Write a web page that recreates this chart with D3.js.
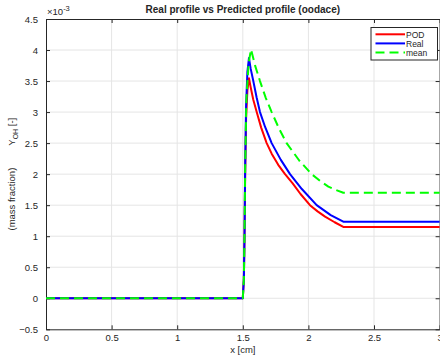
<!DOCTYPE html>
<html>
<head>
<meta charset="utf-8">
<script src="https://cdn.jsdelivr.net/npm/d3@7"></script>
<style>
  body { margin: 0; background: #fff; }
  text { font-family: "Liberation Sans", Arial, Helvetica, sans-serif; fill: #262626; }
</style>
</head>
<body>
<script>
// Y values are in units of 1e-3 (mass fraction), as on the axis multiplier
const xTicks = [0, 0.5, 1, 1.5, 2, 2.5, 3];
const yTicks = [-0.5, 0, 0.5, 1, 1.5, 2, 2.5, 3, 3.5, 4, 4.5];

const podX = [0, 1.5, 1.508, 1.513, 1.518, 1.525, 1.535, 1.547, 1.56, 1.58, 1.606, 1.64, 1.682, 1.72, 1.77, 1.822, 1.88, 1.94, 2.012, 2.07, 2.127, 2.2, 2.266, 3];
const podY = [0, 0, 0.3, 1.0, 2.0, 2.9, 3.35, 3.545, 3.40, 3.2, 3.0, 2.75, 2.5, 2.33, 2.15, 2.0, 1.85, 1.68, 1.5, 1.40, 1.315, 1.225, 1.149, 1.149];

const realX = [0, 1.5, 1.508, 1.513, 1.518, 1.525, 1.535, 1.547, 1.56, 1.58, 1.605, 1.631, 1.67, 1.72, 1.79, 1.86, 1.95, 2.063, 2.17, 2.266, 3];
const realY = [0, 0, 0.3, 1.0, 2.1, 3.1, 3.65, 3.87, 3.70, 3.5, 3.24, 3.0, 2.76, 2.5, 2.23, 2.0, 1.76, 1.5, 1.34, 1.234, 1.234];

const meanX = [0, 1.5, 1.508, 1.513, 1.518, 1.527, 1.545, 1.5625, 1.595, 1.631, 1.675, 1.72, 1.775, 1.834, 1.93, 2.025, 2.09, 2.152, 2.21, 2.266, 3];
const meanY = [0, 0, 0.3, 1.0, 2.1, 3.2, 3.8, 4.01, 3.74, 3.5, 3.23, 3.0, 2.74, 2.5, 2.22, 2.0, 1.89, 1.80, 1.745, 1.70, 1.70];

const series = [
  { name: "POD", xs: podX, ys: podY, color: "#ff0000", dash: null },
  { name: "Real", xs: realX, ys: realY, color: "#0000ff", dash: null },
  { name: "mean", xs: meanX, ys: meanY, color: "#00ff00", dash: "9,5" }
];

const W = 440, H = 359;
const margin = { top: 19, right: 0.4, bottom: 29.7, left: 46 };
const width = W - margin.left - margin.right;
const height = H - margin.top - margin.bottom;

const svg = d3.select("body").append("svg")
  .attr("width", W)
  .attr("height", H);

const g = svg.append("g")
  .attr("transform", `translate(${margin.left},${margin.top})`);

const x = d3.scaleLinear().domain([0, 3]).range([0, width]);
const y = d3.scaleLinear().domain([-0.5, 4.5]).range([height, 0]);

// Grid
g.append("g").selectAll("line").data(xTicks.slice(1, -1)).join("line")
  .attr("x1", d => x(d)).attr("x2", d => x(d))
  .attr("y1", 0).attr("y2", height)
  .attr("stroke", "#e5e5e5").attr("stroke-width", 1);
g.append("g").selectAll("line").data(yTicks.slice(1, -1)).join("line")
  .attr("x1", 0).attr("x2", width)
  .attr("y1", d => y(d)).attr("y2", d => y(d))
  .attr("stroke", "#e5e5e5").attr("stroke-width", 1);

// Axes (ticks inside, box on)
function styleAxis(sel) {
  sel.select(".domain").attr("stroke", "#262626");
  sel.selectAll(".tick line").attr("stroke", "#262626");
  sel.selectAll(".tick text").style("font-size", "9.5px").attr("fill", "#262626");
}
g.append("g").attr("transform", `translate(0,${height})`)
  .call(d3.axisBottom(x).tickValues(xTicks).tickSizeInner(-4).tickSizeOuter(0).tickPadding(5).tickFormat(d3.format("")))
  .call(styleAxis);
g.append("g")
  .call(d3.axisLeft(y).tickValues(yTicks).tickSizeInner(-4).tickSizeOuter(0).tickPadding(8).tickFormat(d3.format("")))
  .call(styleAxis);
g.append("g")
  .call(d3.axisTop(x).tickValues(xTicks).tickSizeInner(-4).tickSizeOuter(0).tickFormat(""))
  .call(styleAxis);
g.append("g").attr("transform", `translate(${width},0)`)
  .call(d3.axisRight(y).tickValues(yTicks).tickSizeInner(-4).tickSizeOuter(0).tickFormat(""))
  .call(styleAxis);

// Lines
const line = d3.line().x(d => x(d[0])).y(d => y(d[1]));
g.append("g").selectAll("path").data(series).join("path")
  .attr("d", s => line(s.xs.map((v, i) => [v, s.ys[i]])))
  .attr("fill", "none")
  .attr("stroke", s => s.color)
  .attr("stroke-width", 2)
  .attr("stroke-dasharray", s => s.dash)
  .attr("stroke-linejoin", "round");

// Exponent label
const ex = svg.append("text").attr("x", 47).attr("y", 15).style("font-size", "9.5px");
ex.append("tspan").text("\u00d710");
ex.append("tspan").attr("dy", -4).style("font-size", "7.5px").text("-3");

// Title
svg.append("text")
  .attr("x", margin.left + width / 2).attr("y", 13)
  .attr("text-anchor", "middle")
  .style("font-size", "10px").style("font-weight", "bold")
  .attr("fill", "#000")
  .text("Real profile vs Predicted profile (oodace)");

// X label
svg.append("text")
  .attr("x", margin.left + width / 2).attr("y", 353)
  .attr("text-anchor", "middle")
  .style("font-size", "9.5px")
  .text("x [cm]");

// Y label
const yl = svg.append("text")
  .attr("transform", `translate(15,${margin.top + height / 2}) rotate(-90)`)
  .attr("text-anchor", "middle")
  .style("font-size", "9.5px");
yl.append("tspan").text("(mass fraction)");
yl.append("tspan").attr("dx", 22).text("Y");
yl.append("tspan").attr("dy", 3).style("font-size", "7px").text("OH");
yl.append("tspan").attr("dy", -3).text(" [-]");

// Legend
const lg = svg.append("g").attr("transform", "translate(371,27.5)");
lg.append("rect").attr("width", 66.5).attr("height", 32.5)
  .attr("fill", "#fff").attr("stroke", "#262626").attr("stroke-width", 1);
series.forEach((s, i) => {
  const yy = 6.8 + i * 9.1;
  lg.append("line").attr("x1", 4.5).attr("x2", 34).attr("y1", yy).attr("y2", yy)
    .attr("stroke", s.color).attr("stroke-width", 2).attr("stroke-dasharray", s.dash);
  lg.append("text").attr("x", 35).attr("y", yy + 3.2)
    .style("font-size", "8.5px").attr("fill", "#000").text(s.name);
});
</script>
</body>
</html>
